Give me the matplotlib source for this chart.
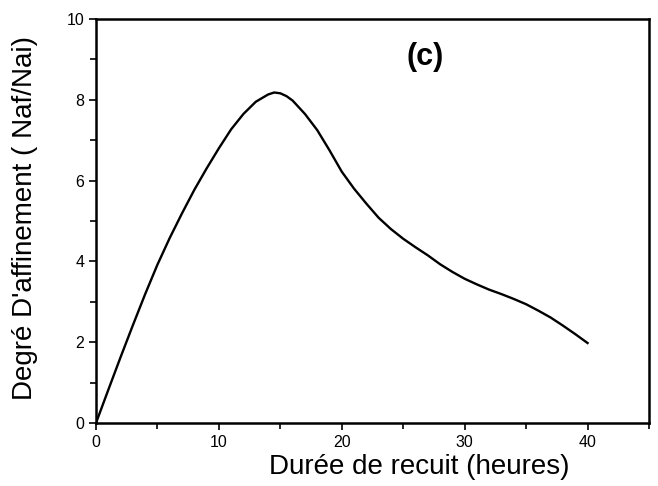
import matplotlib
matplotlib.use("Agg")
import matplotlib.pyplot as plt
from matplotlib.ticker import MultipleLocator

plt.rcParams['font.family'] = ['Liberation Sans', 'DejaVu Sans']

# duree de recuit (heures) vs degre d'affinement
duree = [0, 1, 2, 3, 4, 5, 6, 7, 8, 9, 10, 11, 12, 13, 14, 14.5, 15, 15.5, 16, 17,
         18, 19, 20, 21, 22, 23, 24, 25, 26, 27, 28, 29, 30, 31, 32, 33, 34, 35,
         36, 37, 38, 39, 40]
affinement = [0, 0.82, 1.63, 2.42, 3.19, 3.92, 4.58, 5.19, 5.77, 6.3, 6.8, 7.27,
              7.65, 7.95, 8.13, 8.18, 8.16, 8.09, 7.98, 7.65, 7.25, 6.75, 6.22,
              5.8, 5.43, 5.08, 4.8, 4.56, 4.35, 4.15, 3.93, 3.74, 3.57, 3.43,
              3.3, 3.19, 3.07, 2.94, 2.78, 2.61, 2.41, 2.2, 1.98]

fig = plt.figure(figsize=(6.58, 4.86), dpi=100)
ax = fig.add_axes([0.1459, 0.1296, 0.8404, 0.8314])

ax.plot(duree, affinement, color='black', lw=1.7)

ax.set_xlim(0, 45)
ax.set_ylim(0, 10)
ax.xaxis.set_major_locator(MultipleLocator(10))
ax.xaxis.set_minor_locator(MultipleLocator(5))
ax.yaxis.set_major_locator(MultipleLocator(2))
ax.yaxis.set_minor_locator(MultipleLocator(1))
ax.tick_params(which='major', direction='out', length=5, width=1.2, labelsize=11.5)
ax.tick_params(which='minor', direction='out', length=4, width=1.2)
for s in ax.spines.values():
    s.set_linewidth(1.8)

ax.set_xlabel('Durée de recuit (heures)', fontsize=20)
ax.set_ylabel("Degré D'affinement ( Naf/Nai)", fontsize=20)
ax.xaxis.set_label_coords(0.584, -0.077)
ax.yaxis.set_label_coords(-0.104, 0.507)

ax.text(26.8, 9.06, '(c)', fontsize=22, fontweight='bold', ha='center', va='center')

fig.savefig('out.png', dpi=100)
